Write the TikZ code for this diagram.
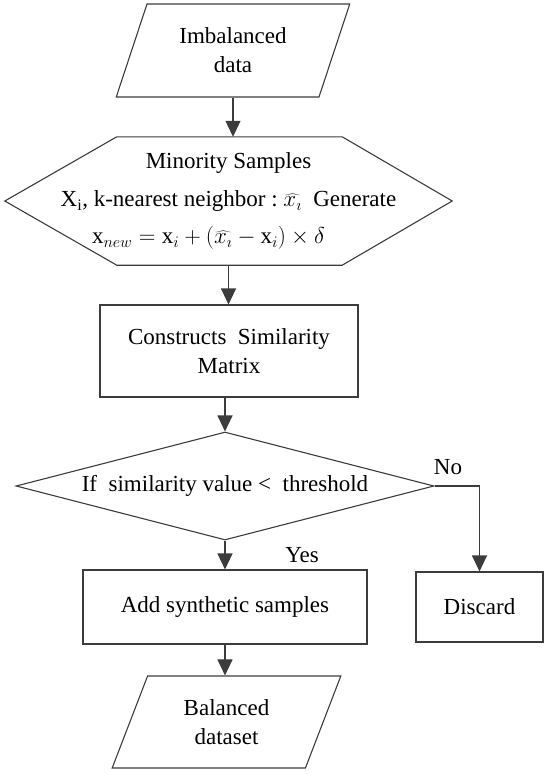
\RequirePackage{fix-cm}
\documentclass[tikz,border=0pt]{standalone}
\usepackage{fontspec}
\setmainfont{Liberation Serif}
\usetikzlibrary{shapes.geometric,arrows.meta,calc}
\definecolor{linegray}{HTML}{3C3C3C}
\begin{document}
\begin{tikzpicture}[x=1pt,y=-1pt,
  every node/.style={font=\fontsize{23}{29}\selectfont, text=black},
  shapeline/.style={draw=linegray, line width=1.1pt},
  box/.style={shapeline, rectangle, inner sep=0pt, align=center},
  io/.style={shapeline, trapezium, trapezium left angle=67, trapezium right angle=113,
    trapezium stretches=true, inner sep=0pt, align=center},
  decision/.style={shapeline, diamond, aspect=3.87, inner sep=0pt, align=center},
  flow/.style={draw=linegray, line width=1.1pt, -{Triangle[length=16pt,width=15pt]}},
  lbl/.style={inner sep=0pt}
]
\useasboundingbox (0,0) rectangle (550,774);

% input
\node[io, minimum width=234pt, minimum height=93pt] (in) at (233,50.5) {Imbalanced\\data};

% hexagon
\node[inner sep=0pt, minimum width=447pt, minimum height=128pt, align=center,
      font=\fontsize{23}{37}\selectfont] (hex) at (228.5,201)
  {Minority Samples\\[1pt]
   X\textsubscript{i}, k-nearest neighbor :\ $\widehat{x_\imath}$\ \ Generate\\[0pt]
   $\mathrm{x}_{new}=\mathrm{x}_i+(\widehat{x_\imath}-\mathrm{x}_i)\times\delta$\hspace*{40pt}};
\draw[shapeline] (hex.west) -- ($(hex.north west)+(112,0)$) -- ($(hex.north east)+(-110,0)$)
  -- (hex.east) -- ($(hex.south east)+(-110,0)$) -- ($(hex.south west)+(112,0)$) -- cycle;

% similarity matrix
\node[box, minimum width=258pt, minimum height=92pt] (sim) at (229,351) {Constructs\ \ Similarity\\Matrix};

% decision
\node[decision, minimum width=418pt, minimum height=108pt] (dec) at (225,486) {If\ \ similarity value <\ \ threshold};

% add / discard
\node[box, minimum width=284pt, minimum height=74pt] (add) at (225,607) {Add synthetic samples};
\node[box, minimum width=127pt, minimum height=70pt] (dis) at (479.5,607) {Discard};

% output
\node[io, minimum width=229pt, minimum height=92pt] (out) at (226.5,722) {Balanced\\dataset};

% labels
\node[lbl] (yes) at (302,555) {Yes};
\node[lbl] (no) at (448,467) {No};

% connectors
\draw[flow] (in.south) -- (in.south |- hex.north);
\draw[flow] (hex.south) -- (hex.south |- sim.north);
\draw[flow] (sim.south -| dec.north) -- (dec.north);
\draw[flow] (dec.south) -- (add.north);
\draw[flow] (dec.east) -| (dis.north);
\draw[flow] (add.south) -- (add.south |- out.north);
\end{tikzpicture}
\end{document}
